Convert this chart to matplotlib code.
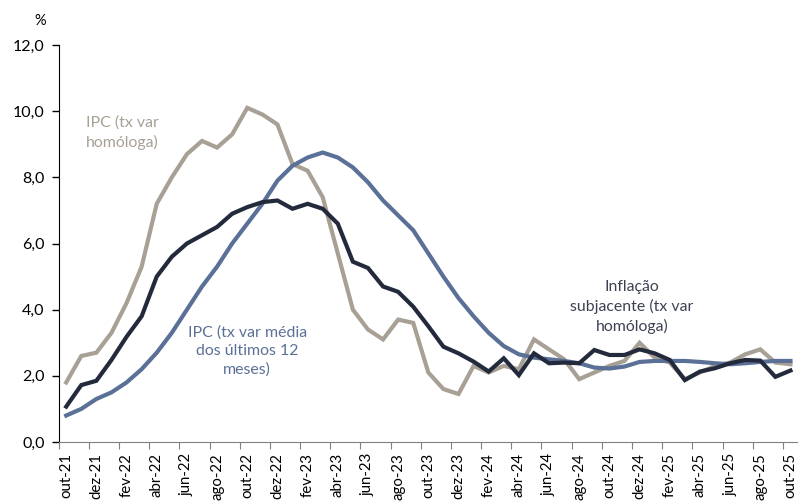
import numpy as np
import matplotlib.pyplot as plt

# monthly series, out-21 .. out-25
meses_pt = ['jan', 'fev', 'mar', 'abr', 'mai', 'jun', 'jul', 'ago', 'set', 'out', 'nov', 'dez']
labels = []
ano, mes = 21, 9
for k in range(49):
    labels.append(meses_pt[mes] + '-' + str(ano))
    mes += 1
    if mes == 12:
        mes = 0
        ano += 1

ipc_homologa = [1.8, 2.6, 2.7, 3.3, 4.2, 5.3, 7.2, 8.0, 8.7, 9.1, 8.9, 9.3,
                10.1, 9.9, 9.6, 8.4, 8.2, 7.4, 5.7, 4.0, 3.4, 3.1, 3.7, 3.6,
                2.1, 1.6, 1.45, 2.3, 2.1, 2.3, 2.2, 3.1, 2.8, 2.5, 1.9, 2.1,
                2.3, 2.45, 3.0, 2.55, 2.4, 1.9, 2.1, 2.3, 2.4, 2.65, 2.8, 2.4, 2.35]
ipc_media12 = [0.8, 1.0, 1.3, 1.5, 1.8, 2.2, 2.7, 3.3, 4.0, 4.7, 5.3, 6.0,
               6.6, 7.2, 7.9, 8.35, 8.6, 8.75, 8.6, 8.3, 7.85, 7.3, 6.85, 6.4,
               5.7, 5.0, 4.35, 3.8, 3.3, 2.9, 2.65, 2.55, 2.5, 2.45, 2.38, 2.25,
               2.22, 2.28, 2.42, 2.45, 2.45, 2.45, 2.42, 2.38, 2.35, 2.38, 2.42, 2.45, 2.45]
subjacente = [1.07, 1.72, 1.85, 2.48, 3.18, 3.8, 5.0, 5.6, 6.0, 6.25, 6.5, 6.9,
              7.1, 7.25, 7.3, 7.05, 7.2, 7.05, 6.6, 5.45, 5.26, 4.7, 4.54, 4.09,
              3.5, 2.88, 2.68, 2.43, 2.13, 2.53, 2.02, 2.68, 2.38, 2.4, 2.38, 2.78,
              2.63, 2.63, 2.8, 2.68, 2.48, 1.87, 2.13, 2.23, 2.38, 2.48, 2.46, 1.97, 2.16]

c_gray = '#A8A095'
c_blue = '#5B7096'
c_dark = '#222A3B'

plt.rcParams['font.family'] = ['Lato', 'DejaVu Sans']

fig = plt.figure(figsize=(7.98, 5.03), dpi=100)
ax = fig.add_axes([0.0735, 0.1213, 0.9265, 0.7892])
x = np.arange(len(labels))
ax.plot(x, ipc_homologa, color=c_gray, lw=3, solid_joinstyle='miter')
ax.plot(x, ipc_media12, color=c_blue, lw=3)
ax.plot(x, subjacente, color=c_dark, lw=3, solid_joinstyle='miter')

ax.set_xlim(-0.5, 48.5)
ax.set_ylim(0, 12)
ax.set_yticks(np.arange(0, 12.1, 2))
ax.set_yticklabels([('%.1f' % v).replace('.', ',') for v in np.arange(0, 12.1, 2)], fontsize=11.5)
ax.tick_params(axis='y', length=5, width=1, color='black', pad=5)

# tick marks at category boundaries, labels at centers
ax.set_xticks(np.arange(-0.5, 48, 2))
ax.set_xticklabels([])
ax.set_xticks(x[::2], minor=True)
ax.set_xticklabels(labels[::2], minor=True, rotation=90, fontsize=10.8)
ax.tick_params(axis='x', which='major', length=5, color='#808080')
ax.tick_params(axis='x', which='minor', length=0, pad=8)

for s in ['top', 'right']:
    ax.spines[s].set_visible(False)
ax.spines['left'].set_color('black')
ax.spines['bottom'].set_color('#808080')

fig.text(0.05, 0.958, '%', fontsize=10.5, ha='center', va='center')

ax.text(1.3, 9.35, 'IPC (tx var\nhomóloga)', color=c_gray, fontsize=11.4,
        ha='left', va='center', linespacing=1.38)
ax.text(12.0, 2.75, 'IPC (tx var média\ndos últimos 12\nmeses)', color=c_blue, fontsize=11.4,
        ha='center', va='center', linespacing=1.38)
ax.text(37.5, 4.08, 'Inflação\nsubjacente (tx var\nhomóloga)', color='#3D4252', fontsize=11.4,
        ha='center', va='center', linespacing=1.38)

fig.savefig('out.png', dpi=100)
